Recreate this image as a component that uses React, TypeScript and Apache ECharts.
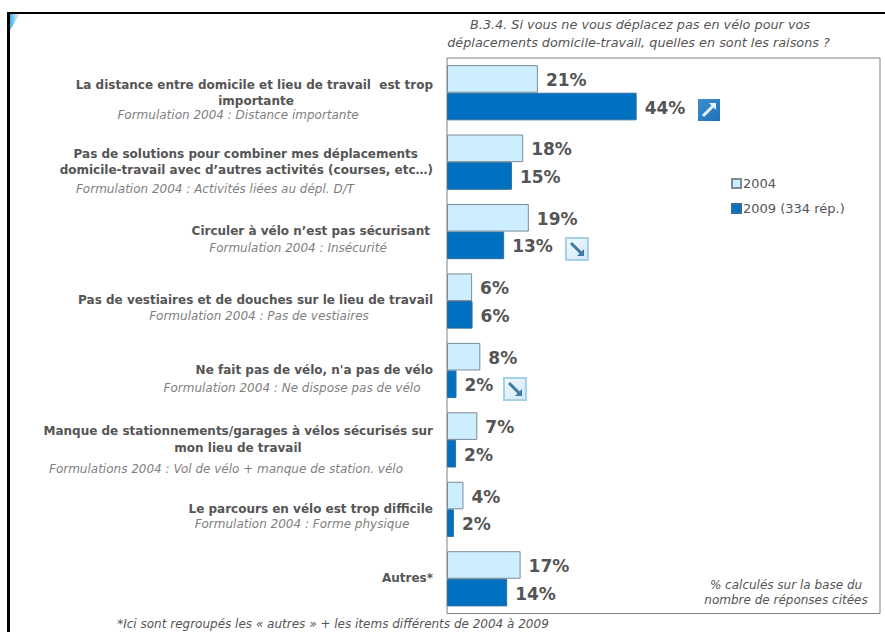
import React, { useEffect, useRef } from "react";
import * as echarts from "echarts";

const categories = [
  "La distance entre domicile et lieu de travail est trop importante",
  "Pas de solutions pour combiner mes déplacements domicile-travail avec d’autres activités (courses, etc…)",
  "Circuler à vélo n’est pas sécurisant",
  "Pas de vestiaires et de douches sur le lieu de travail",
  "Ne fait pas de vélo, n'a pas de vélo",
  "Manque de stationnements/garages à vélos sécurisés sur mon lieu de travail",
  "Le parcours en vélo est trop difficile",
  "Autres*",
];
const values2004 = [21, 17.6, 18.9, 5.8, 7.7, 7, 3.8, 17];
const labels2004 = ["21%", "18%", "19%", "6%", "8%", "7%", "4%", "17%"];
const values2009 = [43.8, 15, 13.2, 5.9, 2.2, 2.1, 1.6, 13.9];
const labels2009 = ["44%", "15%", "13%", "6%", "2%", "2%", "2%", "14%"];
const seriesNames = ["2004", "2009 (334 rép.)"];

const GREY = "#555555";
const SUB = "#7f7f7f";
const FONT = "'DejaVu Sans', Verdana, sans-serif";

const boldLines: [number, number, string, string][] = [
  [433, 85, "La distance entre domicile et lieu de travail  est trop", "right"],
  [256, 101, "importante", "center"],
  [418, 154, "Pas de solutions pour combiner mes déplacements", "right"],
  [433, 170, "domicile-travail avec d’autres activités (courses, etc…)", "right"],
  [430, 231, "Circuler à vélo n’est pas sécurisant", "right"],
  [433, 300, "Pas de vestiaires et de douches sur le lieu de travail", "right"],
  [433, 370, "Ne fait pas de vélo, n'a pas de vélo", "right"],
  [433, 431, "Manque de stationnements/garages à vélos sécurisés sur", "right"],
  [238, 448, "mon lieu de travail", "center"],
  [433, 509, "Le parcours en vélo est trop difficile", "right"],
  [433, 578, "Autres*", "right"],
];
const subLines: [number, number, string][] = [
  [238, 115, "Formulation 2004 : Distance importante"],
  [215, 189, "Formulation 2004 : Activités liées au dépl. D/T"],
  [298, 248, "Formulation 2004 : Insécurité"],
  [259, 316, "Formulation 2004 : Pas de vestiaires"],
  [292, 388, "Formulation 2004 : Ne dispose pas de vélo"],
  [226, 469, "Formulations 2004 : Vol de vélo + manque de station. vélo"],
  [302, 524, "Formulation 2004 : Forme physique"],
];
const titleLines: [number, number, string][] = [
  [640, 24, "B.3.4. Si vous ne vous déplacez pas en vélo pour vos"],
  [638.5, 42, "déplacements domicile-travail, quelles en sont les raisons ?"],
];
const noteLines: [number, number, string][] = [
  [333, 624, "*Ici sont regroupés les « autres » + les items différents de 2004 à 2009"],
  [786, 585, "% calculés sur la base du"],
  [786, 600, "nombre de réponses citées"],
];

function arrowIcon(x: number, y: number, up: boolean) {
  const s = 22;
  const bg = up
    ? { type: "linear", x: 0, y: 0, x2: 1, y2: 1, colorStops: [{ offset: 0, color: "#3d8fd0" }, { offset: 1, color: "#1f70b5" }] }
    : { type: "linear", x: 0, y: 0, x2: 1, y2: 1, colorStops: [{ offset: 0, color: "#f2f9fe" }, { offset: 1, color: "#cfe8f8" }] };
  const line = up
    ? { x1: 5, y1: 17, x2: 15, y2: 7 }
    : { x1: 5, y1: 5, x2: 15, y2: 15 };
  const head = up
    ? [[11, 4], [18, 4], [18, 11]]
    : [[18, 11], [18, 18], [11, 18]];
  return {
    type: "group",
    x,
    y,
    children: [
      { type: "rect", shape: { x: 0, y: 0, width: s, height: s }, style: { fill: bg, stroke: up ? "#2f7fc0" : "#a5d0ea", lineWidth: up ? 0 : 2 } },
      { type: "line", shape: line, style: { stroke: up ? "#e4f3fd" : "#3f7aa5", lineWidth: 3 } },
      { type: "polygon", shape: { points: head }, style: { fill: up ? "#e4f3fd" : "#3f7aa5" } },
    ],
  };
}

export default function App() {
  const ref = useRef<HTMLDivElement>(null);
  useEffect(() => {
    const chart = echarts.init(ref.current!, undefined, { renderer: "svg" });
    const label = (texts: string[]) => ({
      show: true,
      position: "right" as const,
      distance: 8,
      offset: [0, 1],
      color: GREY,
      fontFamily: FONT,
      fontWeight: "bold" as const,
      fontSize: 17,
      formatter: (p: any) => texts[p.dataIndex],
    });
    chart.setOption({
      animation: false,
      backgroundColor: "#ffffff",
      grid: { left: 447, top: 58, width: 433, height: 555.5, show: true, borderColor: "#808080", borderWidth: 1, backgroundColor: "transparent" },
      xAxis: { type: "value", min: 0, max: 100, show: false },
      yAxis: { type: "category", data: categories, inverse: true, axisLine: { show: false }, axisTick: { show: false }, axisLabel: { show: false } },
      legend: {
        orient: "vertical",
        left: 726,
        top: 172,
        icon: "rect",
        itemWidth: 9,
        itemHeight: 9,
        itemGap: 12,
        data: seriesNames,
        textStyle: { color: GREY, fontFamily: FONT, fontSize: 13, padding: [0, 0, 0, -3] },
      },
      series: [
        {
          name: seriesNames[0],
          type: "bar",
          data: values2004,
          barGap: 0,
          barCategoryGap: "20.5%",
          itemStyle: { color: "#cceeff", borderColor: "#7d8b96", borderWidth: 1 },
          label: label(labels2004),
        },
        {
          name: seriesNames[1],
          type: "bar",
          data: values2009,
          itemStyle: { color: "#0070c0", borderColor: "#2f6f9f", borderWidth: 1 },
          label: label(labels2009),
        },
      ],
      graphic: [
        { type: "rect", shape: { x: 7, y: 12, width: 890, height: 2 }, style: { fill: "#000" } },
        { type: "rect", shape: { x: 7, y: 12, width: 3, height: 630 }, style: { fill: "#000" } },
        {
          type: "polygon",
          shape: { points: [[10, 14], [20, 14], [10, 30]] },
          style: { fill: { type: "linear", x: 0, y: 0, x2: 1, y2: 0, colorStops: [{ offset: 0, color: "#3fb0e4" }, { offset: 1, color: "#ffffff" }] } },
        },
        ...titleLines.map(([x, y, text]) => ({
          type: "text", x, y,
          style: { text, align: "center", verticalAlign: "middle", fill: GREY, fontFamily: FONT, fontStyle: "italic", fontSize: 12.8 },
        })),
        ...noteLines.map(([x, y, text]) => ({
          type: "text", x, y,
          style: { text, align: "center", verticalAlign: "middle", fill: GREY, fontFamily: FONT, fontStyle: "italic", fontSize: 12 },
        })),
        ...boldLines.map(([x, y, text, align]) => ({
          type: "text", x, y,
          style: { text, align, verticalAlign: "middle", fill: GREY, fontFamily: FONT, fontWeight: "bold", fontSize: 12 },
        })),
        ...subLines.map(([x, y, text]) => ({
          type: "text", x, y,
          style: { text, align: "center", verticalAlign: "middle", fill: SUB, fontFamily: FONT, fontStyle: "italic", fontSize: 12 },
        })),
        arrowIcon(698, 99, true),
        arrowIcon(566, 238, false),
        arrowIcon(504, 378, false),
      ],
    });
    return () => chart.dispose();
  }, []);
  return <div ref={ref} style={{ position: "fixed", left: 0, top: 0, width: 885, height: 632 }} />;
}
